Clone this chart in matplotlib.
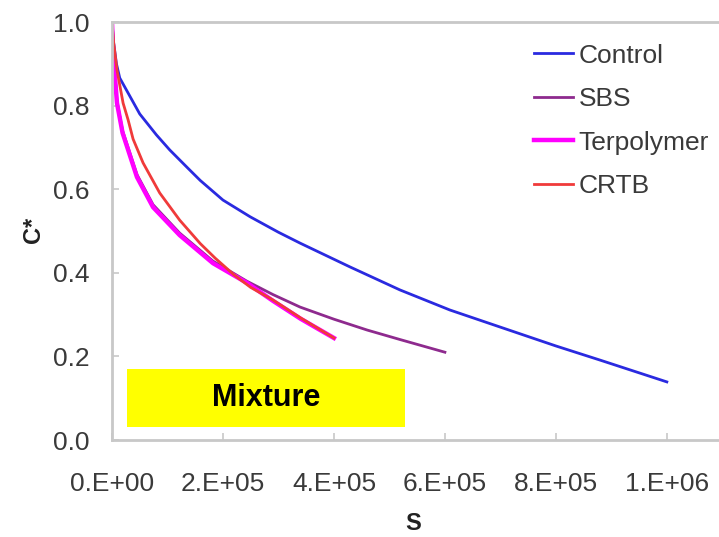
import matplotlib
matplotlib.use("Agg")
import matplotlib.pyplot as plt
from matplotlib.patches import Rectangle

plt.rcParams['font.family'] = ['Liberation Sans', 'DejaVu Sans']

# Data
control_x = [0, 3e3, 8e3, 1.4e4, 5e4, 8e4, 1.04e5, 1.37e5, 1.59e5, 2.0e5, 2.49e5, 3.0e5,
             3.39e5, 4.29e5, 5.19e5, 6.09e5, 7e5, 8e5, 8.8e5, 1e6]
control_y = [1.0, 0.95, 0.9, 0.866, 0.78, 0.73, 0.694, 0.65, 0.621, 0.574, 0.534, 0.497,
             0.471, 0.414, 0.359, 0.311, 0.27, 0.225, 0.191, 0.139]

sbs_x = [0, 2e3, 9e3, 1.9e4, 4.5e4, 7.4e4, 1.22e5, 1.82e5, 2.43e5, 2.9e5, 3.39e5, 4e5,
         4.6e5, 5.2e5, 6e5]
sbs_y = [1.0, 0.93, 0.81, 0.74, 0.635, 0.563, 0.495, 0.428, 0.38, 0.348, 0.318, 0.289,
         0.263, 0.24, 0.21]

terp_x = [0, 2e3, 9e3, 1.9e4, 4.5e4, 7.4e4, 1.22e5, 1.82e5, 2.43e5, 2.9e5, 3.4e5, 4e5]
terp_y = [1.0, 0.926, 0.806, 0.735, 0.629, 0.557, 0.49, 0.423, 0.376, 0.333, 0.29, 0.244]

crtb_x = [0, 3e3, 9e3, 2e4, 2.9e4, 3.8e4, 5.6e4, 8.6e4, 1.22e5, 1.59e5, 1.86e5, 2.2e5,
          2.5e5, 2.9e5, 3.4e5, 4e5]
crtb_y = [1.0, 0.95, 0.885, 0.806, 0.766, 0.72, 0.663, 0.591, 0.526, 0.47, 0.435, 0.395,
          0.365, 0.335, 0.292, 0.244]

series_names = ["Control", "SBS", "Terpolymer", "CRTB"]
x_ticks = [0, 2e5, 4e5, 6e5, 8e5, 1e6]
x_tick_labels = ["0.E+00", "2.E+05", "4.E+05", "6.E+05", "8.E+05", "1.E+06"]
y_ticks = [0.0, 0.2, 0.4, 0.6, 0.8, 1.0]
y_tick_labels = ["0.0", "0.2", "0.4", "0.6", "0.8", "1.0"]

fig = plt.figure(figsize=(7.19, 5.37), dpi=100)
ax = fig.add_axes([112/719, 1-440/537, 1-112/719, (440-22)/537])

ax.plot(control_x, control_y, color="#2a2ae0", lw=2.0, label=series_names[0],
        solid_joinstyle="round")
ax.plot(sbs_x, sbs_y, color="#8e2a8e", lw=2.0, label=series_names[1],
        solid_joinstyle="round")
ax.plot(terp_x, terp_y, color="#ff00ff", lw=3.2, label=series_names[2],
        solid_joinstyle="round")
ax.plot(crtb_x, crtb_y, color="#f03a3a", lw=2.0, label=series_names[3],
        solid_joinstyle="round")

ax.set_xlim(0, 1.094e6)
ax.set_ylim(0, 1.0)
ax.set_xticks(x_ticks)
ax.set_xticklabels(x_tick_labels)
ax.set_yticks(y_ticks)
ax.set_yticklabels(y_tick_labels)

for s in ["left", "bottom", "top"]:
    ax.spines[s].set_color("#c8c8c8")
    ax.spines[s].set_linewidth(2)
ax.spines["right"].set_visible(False)

ax.tick_params(axis="both", direction="in", length=5, width=1.2, color="#c8c8c8",
               labelsize=19, labelcolor="#3a3a3a")
ax.tick_params(axis="x", pad=23)
ax.tick_params(axis="y", pad=16)

ax.set_xlabel("S", fontsize=17, fontweight="bold", color="#222222")
ax.set_ylabel("C*", fontsize=17, fontweight="bold", color="#222222")
ax.xaxis.set_label_coords((413-112)/607, -(512-440)/418)
ax.yaxis.set_label_coords(-(112-45)/607, (440-230)/418)

leg = ax.legend(loc="upper left", bbox_to_anchor=((523-112)/607, (440-33)/418),
                frameon=False, fontsize=19, handlelength=1.5, handletextpad=0.2,
                labelspacing=0.74, borderaxespad=0)
for t in leg.get_texts():
    t.set_color("#3a3a3a")

# yellow label box
bx0 = (127-112)/607; bx1 = (405-112)/607
by0 = (440-427)/418; by1 = (440-369)/418
ax.add_patch(Rectangle((bx0, by0), bx1-bx0, by1-by0, transform=ax.transAxes,
                       facecolor="#ffff00", edgecolor="none", zorder=5))
ax.text((bx0+bx1)/2, (by0+by1)/2, "Mixture", transform=ax.transAxes,
        ha="center", va="center", fontsize=22, fontweight="bold", color="black", zorder=6)

fig.savefig("out.png", dpi=100)
